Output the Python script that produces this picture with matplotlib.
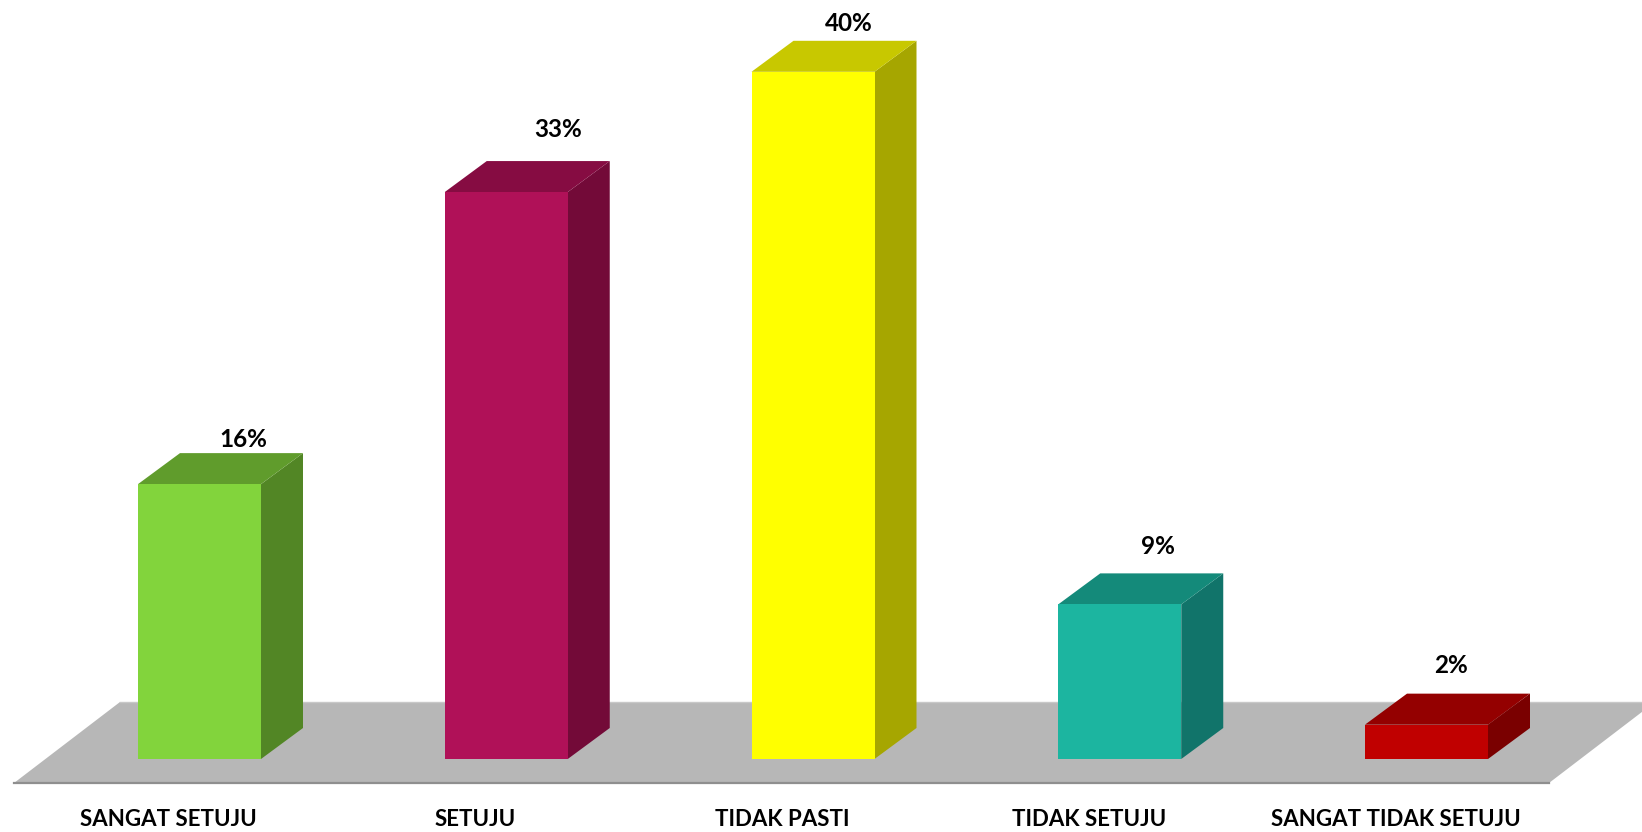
#!/usr/bin/env python3
"""Grafik batang 3D semu: persentase jawaban responden."""

import numpy as np
import matplotlib

matplotlib.use("Agg")

from matplotlib import pyplot as plt
from matplotlib.patches import Polygon

# ----------------------- Data ------------------------------ #
categories = ["SANGAT SETUJU", "SETUJU", "TIDAK PASTI", "TIDAK SETUJU", "SANGAT TIDAK SETUJU"]
values = [16, 33, 40, 9, 2]
value_labels = ["16%", "33%", "40%", "9%", "2%"]

front_colors = ["#82D43C", "#B01158", "#FFFF00", "#1CB5A0", "#C00000"]
side_colors = ["#528625", "#730A38", "#A6A600", "#11746A", "#7A0000"]
top_colors = ["#609C2C", "#860C42", "#C8C800", "#148A7A", "#940000"]

# ----------------------- Layout ---------------------------- #
W, H = 1642, 832
SLOT_PX = 306.75    # jarak antar batang
UNIT_PX = 17.18     # piksel per 1 %
X0_PX, Y0_PX = 199.5, 759

BAR_W = 123 / SLOT_PX
DX = 42 / SLOT_PX   # kedalaman 3D
DY = 31 / UNIT_PX

# geser label nilai (px dari tengah batang, px di atas sisi belakang)
label_dx = [44, 52, 36, 38, 24]
label_dy = [14, 32, 17, 27, 28]
CAT_SHIFT = -31 / SLOT_PX

plt.rcParams["font.family"] = ["Lato", "DejaVu Sans"]

fig = plt.figure(figsize=(W / 100, H / 100), dpi=100)
ax = fig.add_axes([0, 0, 1, 1])
ax.set_xlim(-X0_PX / SLOT_PX, (W - X0_PX) / SLOT_PX)
ax.set_ylim(-(H - Y0_PX) / UNIT_PX, Y0_PX / UNIT_PX)
ax.axis("off")

xs = np.arange(len(categories))

# lantai abu-abu
floor_y0 = -24 / UNIT_PX
floor_y1 = 57 / UNIT_PX
floor_x0 = (14 - X0_PX) / SLOT_PX
floor_x1 = (1549 - X0_PX) / SLOT_PX
floor_slant = 106 / SLOT_PX
ax.add_patch(Polygon(
    [(floor_x0, floor_y0), (floor_x1, floor_y0),
     (floor_x1 + floor_slant, floor_y1), (floor_x0 + floor_slant, floor_y1)],
    closed=True, facecolor="#B7B7B7", edgecolor="none", zorder=1))
ax.plot([floor_x0, floor_x1], [floor_y0, floor_y0], color="#8F8F8F", lw=1.6, zorder=1.5)
ax.plot([floor_x0 + floor_slant, floor_x1 + floor_slant], [floor_y1, floor_y1],
        color="#C8C8C8", lw=1.0, zorder=1.5)

# batang
ax.bar(xs, values, width=BAR_W, color=front_colors, linewidth=0, zorder=3)
for x, v, side, top in zip(xs, values, side_colors, top_colors):
    l, r = x - BAR_W / 2, x + BAR_W / 2
    ax.add_patch(Polygon([(r, 0), (r + DX, DY), (r + DX, v + DY), (r, v)],
                         closed=True, facecolor=side, edgecolor="none", zorder=2))
    ax.add_patch(Polygon([(l, v), (r, v), (r + DX, v + DY), (l + DX, v + DY)],
                         closed=True, facecolor=top, edgecolor="none", zorder=2))

# label
for x, v, txt, ldx, ldy in zip(xs, values, value_labels, label_dx, label_dy):
    ax.text(x + ldx / SLOT_PX, v + DY + ldy / UNIT_PX, txt, ha="center", va="center",
            fontsize=17.5, fontweight="bold", color="black", zorder=4)

for x, cat in zip(xs, categories):
    ax.text(x + CAT_SHIFT, -(820 - Y0_PX) / UNIT_PX, cat, ha="center", va="center",
            fontsize=16, fontweight="bold", color="black", zorder=4)

fig.savefig("out.png", dpi=100, facecolor="white")
